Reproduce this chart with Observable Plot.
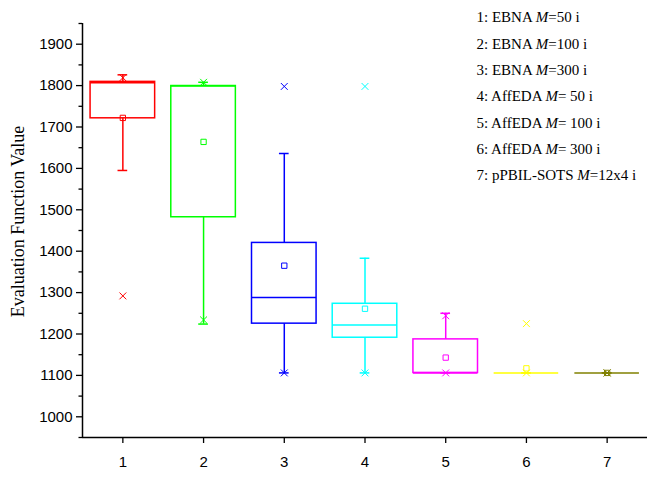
<!DOCTYPE html>
<html><head><meta charset="utf-8">
<script src="https://cdn.jsdelivr.net/npm/d3@7"></script>
<script src="https://cdn.jsdelivr.net/npm/@observablehq/plot@0.6"></script>
<style>body{margin:0;background:#fff}</style>
</head><body><div id="chart"></div>
<script>
const categories = [1, 2, 3, 4, 5, 6, 7];
const colors = ["#FF0000", "#00FF00", "#0000FF", "#00FFFF", "#FF00FF", "#FFFF00", "#808000"];
const q1 = [1721, 1482, 1225, 1191, 1106, 1106, 1106];
const median = [1807, 1799, 1288, 1222, 1106, 1106, 1106];
const q3 = [1809, 1799, 1420, 1273, 1187, 1106, 1106];
const mean = [1722, 1664, 1365, 1261, 1143, 1117, 1106];
const whiskerLow = [1595, 1224, 1106, 1106, 1106, 1106, 1106];
const whiskerHigh = [1826, 1808, 1636, 1383, 1250, 1106, 1106];
const pct1 = [1292, 1234, 1106, 1106, 1106, 1106, 1106];
const pct99 = [1819, 1808, 1798, 1798, 1244, 1225, 1106];
const legendLabels = [
  "1: EBNA M=50 i",
  "2: EBNA M=100 i",
  "3: EBNA M=300 i",
  "4: AffEDA M= 50 i",
  "5: AffEDA M= 100 i",
  "6: AffEDA M= 300 i",
  "7: pPBIL-SOTS M=12x4 i"
];
const yTicks = [1000, 1100, 1200, 1300, 1400, 1500, 1600, 1700, 1800, 1900];
const yMinorTicks = [950, 1050, 1150, 1250, 1350, 1450, 1550, 1650, 1750, 1850, 1950];
const xTicks = categories;
const yTitle = "Evaluation Function Value";

const boxes = categories.map((c, i) => ({
  cat: c, color: colors[i], q1: q1[i], median: median[i], q3: q3[i], mean: mean[i],
  lo: whiskerLow[i], hi: whiskerHigh[i], p1: pct1[i], p99: pct99[i]
}));
const HW = 0.4, CW = 0.06;
const sans = "Liberation Sans, Arial, sans-serif";
const serif = "Liberation Serif, Times New Roman, serif";

const svg = Plot.plot({
  width: 653, height: 484,
  marginTop: 23, marginBottom: 47, marginLeft: 82, marginRight: 6,
  x: {domain: [0.5, 7.5], axis: null},
  y: {domain: [950, 1950], axis: null},
  color: {type: "identity"},
  style: {background: "white", color: "black"},
  marks: [
    Plot.rect(boxes, {x1: d => d.cat - HW, x2: d => d.cat + HW, y1: "q1", y2: "q3", stroke: "color", fill: "none", strokeWidth: 1.5}),
    Plot.ruleY(boxes, {y: "median", x1: d => d.cat - HW, x2: d => d.cat + HW, stroke: "color", strokeWidth: 1.5}),
    Plot.ruleX(boxes, {x: "cat", y1: "q3", y2: "hi", stroke: "color", strokeWidth: 1.5}),
    Plot.ruleX(boxes, {x: "cat", y1: "lo", y2: "q1", stroke: "color", strokeWidth: 1.5}),
    Plot.ruleY(boxes, {y: "hi", x1: d => d.cat - CW, x2: d => d.cat + CW, stroke: "color", strokeWidth: 1.5}),
    Plot.ruleY(boxes, {y: "lo", x1: d => d.cat - CW, x2: d => d.cat + CW, stroke: "color", strokeWidth: 1.5}),
    Plot.dot(boxes, {x: "cat", y: "mean", symbol: "square", r: 3, stroke: "color", fill: "none", strokeWidth: 1}),
    Plot.dot(boxes, {x: "cat", y: "p1", symbol: "times", r: 3.2, stroke: "color", strokeWidth: 1}),
    Plot.dot(boxes, {x: "cat", y: "p99", symbol: "times", r: 3.2, stroke: "color", strokeWidth: 1}),
    Plot.ruleX([0.5], {stroke: "black", strokeWidth: 1.5}),
    Plot.ruleY([950], {stroke: "black", strokeWidth: 1.5}),
    Plot.axisY(yMinorTicks, {tickSize: 3.5, tickFormat: () => "", label: null, strokeWidth: 1.3}),
    Plot.axisY(yTicks, {tickSize: 6, tickPadding: 4, tickFormat: d => String(d), fontSize: 15, fontFamily: sans, label: null, strokeWidth: 1.3}),
    Plot.axisX(xTicks, {tickSize: 6, tickPadding: 13, tickFormat: d => String(d), fontSize: 15, fontFamily: sans, label: null, strokeWidth: 1.3}),
    Plot.text([yTitle], {frameAnchor: "left", textAnchor: "middle", lineAnchor: "middle", rotate: -90, dx: -64, dy: -9, fontFamily: serif, fontSize: 18, fill: "black"}),
    ...legendLabels.map((t, i) => Plot.text([t], {
      frameAnchor: "top-left", textAnchor: "start", lineAnchor: "middle",
      dx: 476 - 82, dy: 17 - 23 + i * 26.3, fontFamily: serif, fontSize: 15, fill: "black"
    }))
  ]
});

d3.select(svg).selectAll("text").each(function () {
  const t = this.textContent;
  const m = t.match(/^(\d: .*?)M(=.*)$/);
  if (m) {
    const s = d3.select(this);
    s.text(null);
    s.append("tspan").text(m[1]);
    s.append("tspan").attr("font-style", "italic").text("M");
    s.append("tspan").text(m[2]);
  }
});

document.getElementById("chart").appendChild(svg);
</script>
</body></html>
